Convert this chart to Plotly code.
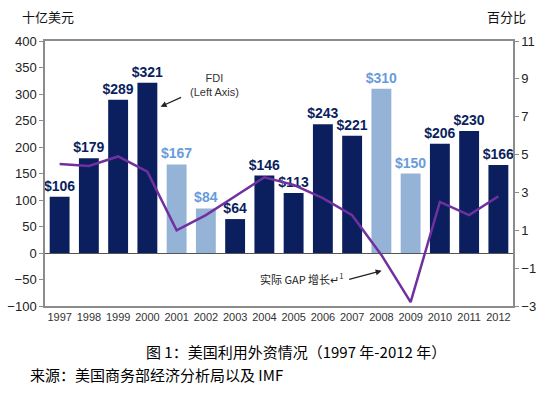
import plotly.graph_objects as go

years = [str(y) for y in range(1997, 2013)]
fdi = [106, 179, 289, 321, 167, 84, 64, 146, 113, 243, 221, 310, 150, 206, 230, 166]
light = [False, False, False, False, True, True, False, False, False, False, False, True, True, False, False, False]
gdp = [4.5, 4.4, 4.9, 4.1, 1.0, 1.8, 2.8, 3.8, 3.4, 2.7, 1.8, -0.3, -2.8, 2.5, 1.8, 2.8]
left_ticks = [-100, -50, 0, 50, 100, 150, 200, 250, 300, 350, 400]
right_ticks = [-3, -1, 1, 3, 5, 7, 9, 11]

DARK = "#0b1f5e"
LIGHT_BAR = "#95b3d7"
LIGHT_TXT = "#6a9bdb"
PURPLE = "#7030a0"
GRID = "#8c8c8c"

bar_colors = [LIGHT_BAR if l else DARK for l in light]
txt_colors = [LIGHT_TXT if l else DARK for l in light]
labels = ["$" + str(v) for v in fdi]

fig = go.Figure()
fig.add_trace(go.Bar(
    x=years, y=fdi, marker=dict(color=bar_colors, line=dict(width=0)),
    text=labels, textposition="outside", cliponaxis=False, constraintext="none",
    textfont=dict(family="Liberation Sans, Arial", size=14, color=txt_colors,
                  weight="bold"),
    width=0.68, yaxis="y", showlegend=False, hoverinfo="skip",
))
fig.add_trace(go.Scatter(
    x=years, y=gdp, mode="lines", line=dict(color=PURPLE, width=2.5),
    yaxis="y2", showlegend=False, hoverinfo="skip",
))

font_main = "Liberation Sans, Arial, sans-serif"
cjk = "Noto Sans CJK SC, sans-serif"

fig.update_layout(
    width=547, height=399,
    margin=dict(l=45, r=34, t=41, b=93),
    paper_bgcolor="white", plot_bgcolor="white",
    bargap=0.32,
    xaxis=dict(
        type="category", showline=True, linecolor=GRID, linewidth=1.5,
        mirror=True, ticks="", tickfont=dict(family=font_main, size=11, color="#333"),
        showgrid=False, automargin=False,
    ),
    yaxis=dict(
        range=[-100, 400], tickvals=left_ticks, showgrid=False,
        zeroline=True, zerolinecolor="#555", zerolinewidth=1,
        showline=True, linecolor=GRID, linewidth=1.5,
        ticks="outside", ticklen=4, tickcolor=GRID, automargin=False,
        tickfont=dict(family=font_main, size=13, color="#222"),
    ),
    yaxis2=dict(
        range=[-3, 11], tickvals=right_ticks, overlaying="y", side="right",
        showgrid=False, zeroline=False, showline=True, linecolor=GRID, linewidth=1.5,
        ticks="outside", ticklen=4, tickcolor=GRID, automargin=False,
        tickfont=dict(family=font_main, size=13, color="#222"),
    ),
    annotations=[
        dict(text="十亿美元", xref="paper", yref="paper", x=-0.0534, y=1.0917,
             xanchor="left", yanchor="middle", showarrow=False,
             font=dict(family=cjk, size=13, color="#111")),
        dict(text="百分比", xref="paper", yref="paper", x=0.940, y=1.0917,
             xanchor="left", yanchor="middle", showarrow=False,
             font=dict(family=cjk, size=13, color="#111")),
        dict(text="FDI<br>(Left Axis)", xref="paper", yref="paper", x=0.363, y=0.834,
             xanchor="center", yanchor="middle", showarrow=False,
             font=dict(family=font_main, size=11, color="#333")),
        dict(text="", xref="paper", yref="paper", x=0.247, y=0.752,
             showarrow=True, ax=22, ay=-10, arrowhead=2, arrowsize=1, arrowwidth=1.2,
             arrowcolor="#222"),
        dict(text="实际 GAP 增长↵<sup>1</sup>", xref="paper", yref="paper", x=0.455, y=0.102,
             xanchor="left", yanchor="middle", showarrow=False,
             font=dict(family=cjk, size=11, color="#222")),
        dict(text="", xref="paper", yref="paper", x=0.7194, y=0.133,
             showarrow=True, ax=-34, ay=9, arrowhead=2, arrowsize=1, arrowwidth=1.2,
             arrowcolor="#222"),
        dict(text="图 1：美国利用外资情况（1997 年-2012 年）", xref="paper", yref="paper",
             x=0.536, y=-0.1725, xanchor="center", yanchor="middle", showarrow=False,
             font=dict(family=cjk, size=15, color="#000")),
        dict(text="来源：美国商务部经济分析局以及 IMF", xref="paper", yref="paper",
             x=-0.0363, y=-0.26, xanchor="left", yanchor="middle", showarrow=False,
             font=dict(family=cjk, size=15, color="#000")),
    ],
)

fig.write_html("out.html", config={"displayModeBar": False},
               post_script="document.body.style.margin='0';document.body.style.padding='0';")
